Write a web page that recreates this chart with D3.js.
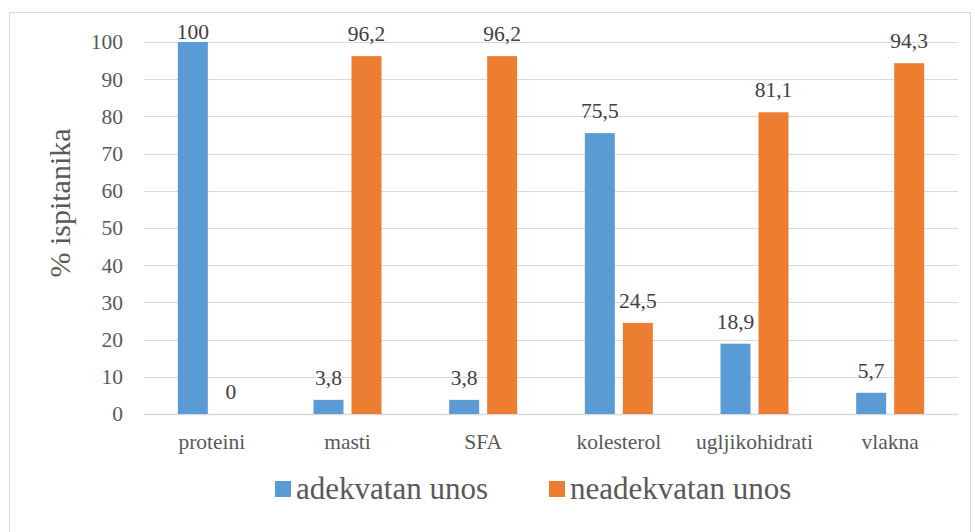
<!DOCTYPE html>
<html>
<head>
<meta charset="utf-8">
<script src="https://cdn.jsdelivr.net/npm/d3@7"></script>
<style>
  body { margin: 0; background: #fff; }
</style>
</head>
<body>
<svg id="chart" width="975" height="532"></svg>
<script>
const categories = ['proteini', 'masti', 'SFA', 'kolesterol', 'ugljikohidrati', 'vlakna'];
const adekvatan = [100, 3.8, 3.8, 75.5, 18.9, 5.7];
const neadekvatan = [0, 96.2, 96.2, 24.5, 81.1, 94.3];
const seriesNames = ['adekvatan unos', 'neadekvatan unos'];
const colors = ['#5b9bd5', '#ed7d31'];
const yTicks = [0, 10, 20, 30, 40, 50, 60, 70, 80, 90, 100];

const width = 975, height = 532;
const margin = { top: 42, right: 17, bottom: 118, left: 144 };
const textColor = '#595959';
const serif = '"Liberation Serif", "Times New Roman", serif';

const svg = d3.select('#chart');

// outer frame
svg.append('rect')
    .attr('x', 9.5).attr('y', 12.5)
    .attr('width', 961).attr('height', 530)
    .attr('fill', 'none').attr('stroke', '#d9d9d9');

const x = d3.scaleBand()
    .domain(categories)
    .range([margin.left, width - margin.right]);

const y = d3.scaleLinear()
    .domain([0, 100])
    .range([height - margin.bottom, margin.top]);

// gridlines
svg.append('g')
    .selectAll('line')
    .data(yTicks)
    .enter()
    .append('line')
    .attr('x1', margin.left)
    .attr('x2', width - margin.right)
    .attr('y1', d => Math.round(y(d)) + 0.5)
    .attr('y2', d => Math.round(y(d)) + 0.5)
    .attr('stroke', '#d9d9d9')
    .attr('stroke-width', d => d === 0 ? 1.5 : 1);

// y axis labels
const yAxis = d3.axisLeft(y).tickValues(yTicks).tickSize(0).tickPadding(0);
const gy = svg.append('g')
    .attr('transform', 'translate(' + (margin.left - 21) + ',0)')
    .call(yAxis);
gy.select('.domain').remove();
gy.selectAll('text')
    .attr('font-size', '21.5px')
    .attr('fill', textColor);

// x axis labels
const xAxis = d3.axisBottom(x).tickSize(0).tickPadding(0);
const gx = svg.append('g')
    .attr('transform', 'translate(0,' + (height - margin.bottom + 20) + ')')
    .call(xAxis);
gx.select('.domain').remove();
gx.selectAll('text')
    .attr('font-size', '21.5px')
    .attr('fill', textColor);

// y title
svg.append('text')
    .attr('transform', 'translate(70,' + ((margin.top + height - margin.bottom) / 2 - 25) + ') rotate(-90)')
    .attr('text-anchor', 'middle')
    .attr('font-size', '30px')
    .attr('fill', textColor)
    .text('% ispitanika');

// bars
const barW = 30, gap = 8;
const rows = categories.map((c, i) => ({ cat: c, vals: [adekvatan[i], neadekvatan[i]] }));
const fmt = v => String(v).replace('.', ',');

rows.forEach(r => {
    const cx = x(r.cat) + x.bandwidth() / 2;
    r.vals.forEach((v, s) => {
        const bx = s === 0 ? cx - gap / 2 - barW : cx + gap / 2;
        svg.append('rect')
            .attr('x', bx)
            .attr('y', y(v))
            .attr('width', barW)
            .attr('height', y(0) - y(v))
            .attr('fill', colors[s]);
        svg.append('text')
            .attr('x', bx + barW / 2)
            .attr('y', Math.max(y(v) - 15, margin.top - 3))
            .attr('text-anchor', 'middle')
            .attr('font-size', '21.5px')
            .attr('fill', '#404040')
            .text(fmt(v));
    });
});

// legend
const legendItems = [{ x: 275, name: seriesNames[0], color: colors[0] }, { x: 549, name: seriesNames[1], color: colors[1] }];
const lg = svg.append('g');
legendItems.forEach(d => {
    lg.append('rect')
        .attr('x', d.x).attr('y', 481)
        .attr('width', 16).attr('height', 16)
        .attr('fill', d.color);
    lg.append('text')
        .attr('x', d.x + 21).attr('y', 499)
        .attr('font-size', '31px')
        .attr('fill', textColor)
        .text(d.name);
});

svg.selectAll('text').style('font-family', serif);
</script>
</body>
</html>
